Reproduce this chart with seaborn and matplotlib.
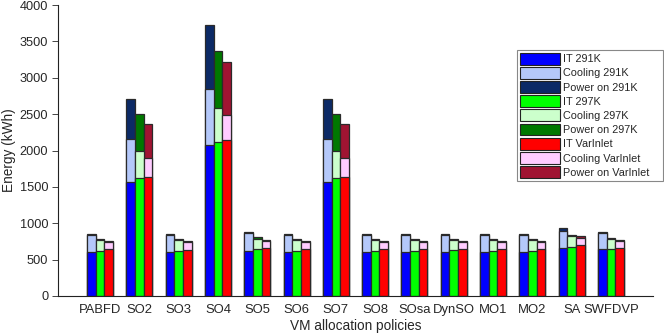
import matplotlib
matplotlib.use("Agg")
import matplotlib.pyplot as plt
from matplotlib.patches import Patch
import pandas as pd
import seaborn as sns

# ---- data (kWh) ----
policies = ["PABFD", "SO2", "SO3", "SO4", "SO5", "SO6", "SO7",
            "SO8", "SOsa", "DynSO", "MO1", "MO2", "SA", "SWFDVP"]
configs = ["291K", "297K", "VarInlet"]

it_291 = [605, 1567, 605, 2070, 620, 605, 1567, 605, 605, 610, 605, 605, 660, 640]
cool_291 = [235, 590, 233, 775, 240, 235, 590, 235, 235, 232, 235, 235, 237, 230]
power_291 = [15, 545, 12, 875, 25, 15, 545, 15, 15, 15, 15, 15, 40, 15]

it_297 = [625, 1617, 620, 2110, 640, 625, 1617, 625, 625, 628, 625, 625, 680, 650]
cool_297 = [150, 370, 150, 480, 150, 150, 370, 150, 150, 148, 150, 150, 140, 140]
power_297 = [10, 510, 8, 776, 15, 10, 510, 10, 10, 10, 10, 10, 25, 10]

it_var = [645, 1640, 638, 2148, 655, 645, 1640, 645, 645, 648, 645, 645, 700, 660]
cool_var = [100, 257, 108, 340, 100, 100, 257, 100, 100, 100, 100, 100, 100, 100]
power_var = [10, 470, 8, 733, 10, 10, 470, 10, 10, 10, 10, 10, 20, 10]

it_colors = ["#0000ff", "#00ff00", "#ff0000"]
cool_colors = ["#b4c8fa", "#ccffcc", "#ffccff"]
power_colors = ["#0c2a66", "#007800", "#a01432"]

rows = []
for cfg, it, cool, pw in zip(configs,
                             [it_291, it_297, it_var],
                             [cool_291, cool_297, cool_var],
                             [power_291, power_297, power_var]):
    for p, a, b, c in zip(policies, it, cool, pw):
        rows.append({"policy": p, "config": cfg,
                     "it": a, "it_cool": a + b, "total": a + b + c})
df = pd.DataFrame(rows)

sns.set_theme(style="ticks")
plt.rcParams["font.family"] = ["Liberation Sans", "DejaVu Sans"]

fig = plt.figure(figsize=(6.64, 3.35), dpi=100)
ax = fig.add_axes([58 / 664, 39 / 335, 595 / 664, 291 / 335])

# stacked bars: draw cumulative heights from the top layer down
for col, pal in [("total", power_colors), ("it_cool", cool_colors), ("it", it_colors)]:
    sns.barplot(data=df, x="policy", y=col, hue="config", order=policies,
                hue_order=configs, palette=pal, width=0.66, gap=0,
                edgecolor="#2a2a2a", linewidth=0.9, saturation=1,
                legend=False, ax=ax)

ax.set_xlim(-1.07, 14.07)
ax.set_ylim(0, 4000)
ax.set_yticks(range(0, 4001, 500))
ax.set_xlabel("VM allocation policies", fontsize=9.8, labelpad=2)
ax.set_ylabel("Energy (kWh)", fontsize=9.8, labelpad=3)
ax.tick_params(axis="y", labelsize=9.2, length=4, width=0.6, direction="out", pad=3)
ax.tick_params(axis="x", labelsize=9.4, length=0, pad=6)
sns.despine(ax=ax)
for s in ["left", "bottom"]:
    ax.spines[s].set_linewidth(0.8)
    ax.spines[s].set_color("#222222")

handles = []
labels = []
for cfg, ci, cc, cp in zip(configs, it_colors, cool_colors, power_colors):
    for name, color in [("IT", ci), ("Cooling", cc), ("Power on", cp)]:
        handles.append(Patch(facecolor=color, edgecolor="#222222", linewidth=0.8))
        labels.append(f"{name} {cfg}")

leg = ax.legend(handles, labels, loc="upper left", mode="expand",
                bbox_to_anchor=(517 / 664, 1 - 50 / 335 - 0.01, 146 / 664, 0.01),
                bbox_transform=fig.transFigure, borderaxespad=0,
                fontsize=7.8, handlelength=3.7, handleheight=1.3,
                labelspacing=0.22, handletextpad=0.3, borderpad=0.25,
                fancybox=False, framealpha=1, edgecolor="#888888")
leg.get_frame().set_linewidth(0.8)

fig.savefig("out.png", dpi=100)
